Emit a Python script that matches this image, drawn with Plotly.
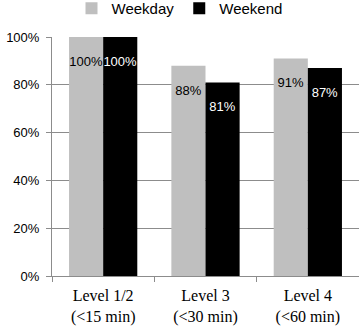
import plotly.graph_objects as go

categories = ["Level 1/2<br>(<15 min)", "Level 3<br>(<30 min)", "Level 4<br>(<60 min)"]
weekday = [100, 88, 91]
weekend = [100, 81, 87]
y_ticks = [0, 20, 40, 60, 80, 100]
y_tick_text = ["0%", "20%", "40%", "60%", "80%", "100%"]

sans = "Liberation Sans, Arial, Helvetica, sans-serif"
serif = "Liberation Serif, Times New Roman, serif"

pad_line = "<span style='font-size:10px'>&nbsp;</span><br>"
weekday_text = [f"{pad_line}{v}%" for v in weekday]
weekend_text = [f"{pad_line}{v}%" for v in weekend]

fig = go.Figure()
fig.add_trace(go.Bar(
    name="Weekday", x=categories, y=weekday, text=weekday_text,
    marker=dict(color="#BFBFBF", line=dict(width=0)),
    texttemplate="%{text}", textposition="inside", insidetextanchor="end",
    constraintext="none", textangle=0,
    textfont=dict(family=sans, size=13, color="#000000"),
    hoverinfo="skip",
))
fig.add_trace(go.Bar(
    name="Weekend", x=categories, y=weekend, text=weekend_text,
    marker=dict(color="#000000", line=dict(width=0)),
    texttemplate="%{text}", textposition="inside", insidetextanchor="end",
    constraintext="none", textangle=0,
    textfont=dict(family=sans, size=13, color="#FFFFFF"),
    hoverinfo="skip",
))

fig.update_layout(
    width=359, height=326,
    margin=dict(l=52, r=0, t=37, b=50, autoexpand=False),
    paper_bgcolor="white", plot_bgcolor="white",
    barmode="group", bargap=0.333, bargroupgap=0,
    showlegend=True,
    legend=dict(orientation="h", xref="container", yref="paper",
                x=0.5, xanchor="center", y=1.119, yanchor="middle",
                font=dict(family=sans, size=15, color="#000000"),
                itemwidth=30, tracegroupgap=0, bgcolor="rgba(0,0,0,0)"),
    xaxis=dict(showgrid=False, showline=True, linecolor="#8C8C8C", linewidth=1,
               ticks="outside", tickson="boundaries", ticklen=5, tickcolor="#8C8C8C",
               ticklabelstandoff=5,
               tickfont=dict(family=serif, size=16, color="#000000")),
    yaxis=dict(range=[0, 100], tickvals=y_ticks, ticktext=y_tick_text,
               showgrid=True, gridcolor="#8C8C8C", gridwidth=1,
               showline=True, linecolor="#8C8C8C", linewidth=1,
               ticks="outside", ticklen=5, tickcolor="#8C8C8C",
               ticklabelstandoff=4, zeroline=False,
               tickfont=dict(family=sans, size=13, color="#000000")),
)

fig.write_html("out.html", config={"displayModeBar": False},
               post_script="document.body.style.margin='0';document.body.style.overflow='hidden';")
